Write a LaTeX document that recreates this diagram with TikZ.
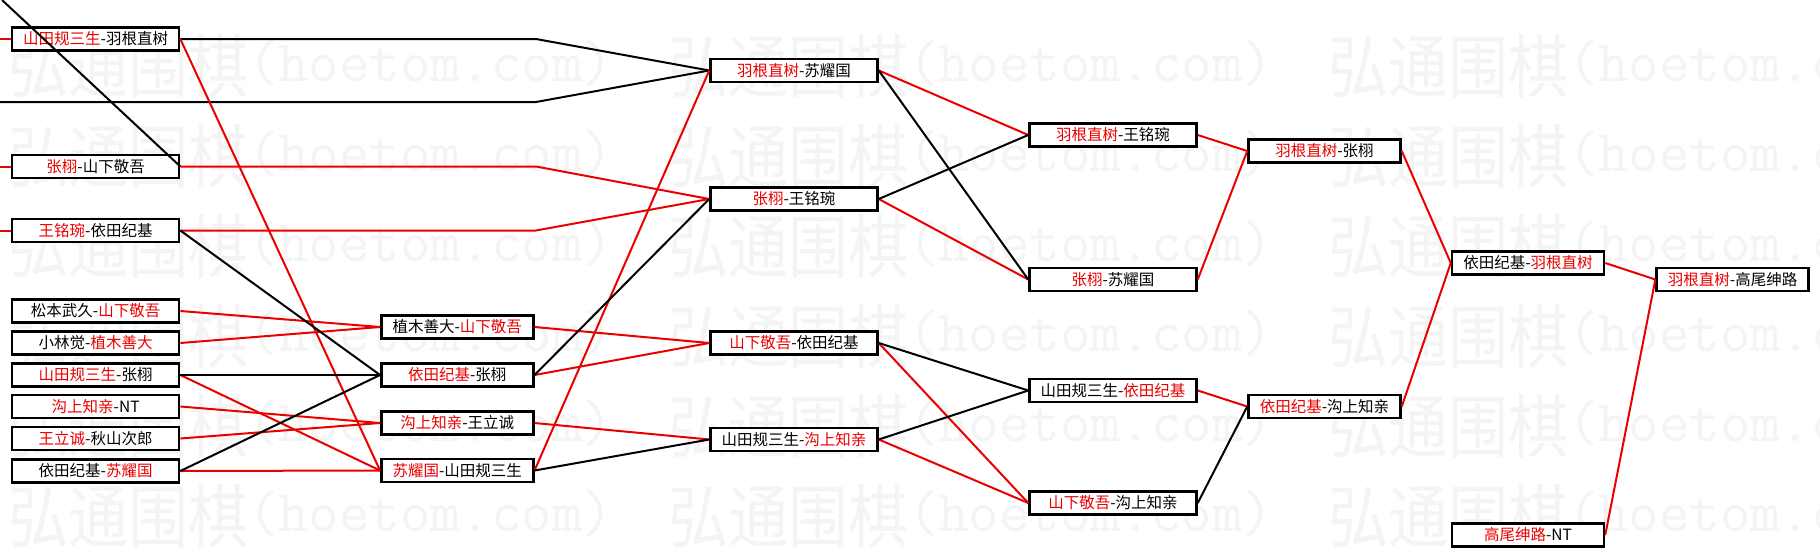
\documentclass[tikz,border=0pt]{standalone}
\usepackage{fontspec}
\usepackage{xcolor}
\usepackage{graphicx}
\usepackage{tikz}
\usetikzlibrary{positioning,calc}
\newfontfamily\cjk{Noto Sans CJK SC}
\definecolor{winred}{RGB}{235,0,0}
\definecolor{wmgray}{RGB}{244,244,244}
\newcommand{\wn}[1]{\textcolor{winred}{#1}}
\newcommand{\wmtext}{\scalebox{1}[1.15]{\cjk 弘通围棋}%
  \raisebox{11pt}{\ttfamily\fontsize{59}{59}\selectfont(hoetom.com)}}

\begin{document}
\begin{tikzpicture}[
    x=1pt, y=-1pt,
    game/.style={draw,line width=2.5pt,fill=white,minimum width=167pt,
                 minimum height=23pt,inner sep=0pt,
                 font=\cjk\fontsize{15.5}{15.5}\selectfont},
    gamen/.style={game,minimum width=152pt},
    won/.style={winred,line width=2pt,line join=round},
    lost/.style={black,line width=2pt,line join=round},
    wmark/.style={anchor=base west,inner sep=0pt,text=wmgray,
                  font=\fontsize{60}{60}\selectfont},
  ]
  \fill[white] (0,0) rectangle (1820,557);
  \useasboundingbox (0,0) rectangle (1820,557);

  % --- watermark rows ---
  \foreach \r in {0,...,5}
    \foreach \k in {0,1,2}
      \node[wmark] (wm\r\k) at ({8+660*\k},{92+90*\r}) {\wmtext};

  % --- round 1 (left column) ---
  \node[game] (a1) at (95.6,39)    {\wn{山田规三生}-羽根直树};
  \node[game] (a2) at (95.6,166.5) {\wn{张栩}-山下敬吾};
  \node[game] (a3) at (95.6,230.5) {\wn{王铭琬}-依田纪基};
  \node[game] (a4) at (95.6,311)   {松本武久-\wn{山下敬吾}};
  \node[game] (a5) at (95.6,343)   {小林觉-\wn{植木善大}};
  \node[game] (a6) at (95.6,375)   {\wn{山田规三生}-张栩};
  \node[game] (a7) at (95.6,406.5) {\wn{沟上知亲}-NT};
  \node[game] (a8) at (95.6,438.5) {\wn{王立诚}-秋山次郎};
  \node[game] (a9) at (95.6,471)   {依田纪基-\wn{苏耀国}};

  % --- round 2 ---
  \node[gamen] (b1) at (457.3,327)   {植木善大-\wn{山下敬吾}};
  \node[gamen] (b2) at (457.3,375)   {\wn{依田纪基}-张栩};
  \node[gamen] (b3) at (457.3,423)   {\wn{沟上知亲}-王立诚};
  \node[gamen] (b4) at (457.3,470.5) {\wn{苏耀国}-山田规三生};

  % --- round 3 ---
  \node[game] (c1) at (794,70.5)  {\wn{羽根直树}-苏耀国};
  \node[game] (c2) at (794,199)   {\wn{张栩}-王铭琬};
  \node[game] (c3) at (794,343)   {\wn{山下敬吾}-依田纪基};
  \node[game] (c4) at (794,439.5) {山田规三生-\wn{沟上知亲}};

  % --- round 4 ---
  \node[game] (d1) at (1113,135)   {\wn{羽根直树}-王铭琬};
  \node[game] (d2) at (1113,279.5) {\wn{张栩}-苏耀国};
  \node[game] (d3) at (1113,390.5) {山田规三生-\wn{依田纪基}};
  \node[game] (d4) at (1113,503)   {\wn{山下敬吾}-沟上知亲};

  % --- semi-finals, final ---
  \node[gamen] (e1) at (1324.5,151)   {\wn{羽根直树}-张栩};
  \node[gamen] (e2) at (1324.5,406.5) {\wn{依田纪基}-沟上知亲};
  \node[gamen] (f1) at (1528,263)     {依田纪基-\wn{羽根直树}};
  \node[gamen] (f2) at (1528,535)     {\wn{高尾绅路}-NT};
  \node[gamen] (g1) at (1732.6,279.5) {\wn{羽根直树}-高尾绅路};

  % --- feeders coming in from outside the picture ---
  \coordinate (in1) at (0,39);
  \coordinate (in2) at (0,166.5);
  \coordinate (in3) at (0,230.5);
  \coordinate (in4) at (0,102);
  \coordinate (in5) at (2,0);
  \coordinate (bk1) at (536,39);
  \coordinate (bk2) at (536,102);
  \coordinate (bk3) at (536,166.5);
  \coordinate (bk4) at (536,230.5);
  \foreach \t/\s in {a1/in1,a2/in2,a3/in3} { \draw[won] (\s) -- (\t.west); }
  \draw[lost] (in5) -- (a2.east);
  \draw[lost] (in4) -- (bk2) -- (c1.west);

  % --- long runs to round 3 ---
  \draw[lost] (a1.east) -- (bk1) -- (c1.west);
  \draw[won]  (a2.east) -- (bk3) -- (c2.west);
  \draw[won]  (a3.east) -- (bk4) -- (c2.west);

  % --- winners (red) and losers (black) move on ---
  \foreach \s/\t in {a1/b4,a4/b1,a5/b1,a6/b4,a7/b3,a8/b3,a9/b4,
                     b1/c3,b2/c3,b3/c4,b4/c1,
                     c1/d1,c2/d2,c3/d4,c4/d4,
                     d1/e1,d2/e1,d3/e2,e1/f1,e2/f1,f1/g1,f2/g1}
    { \draw[won] (\s.east) -- (\t.west); }
  \foreach \s/\t in {a3/b2,a6/b2,a9/b2,b2/c2,b4/c4,
                     c1/d2,c2/d1,c3/d3,c4/d3,d4/e2}
    { \draw[lost] (\s.east) -- (\t.west); }

\end{tikzpicture}
\end{document}
